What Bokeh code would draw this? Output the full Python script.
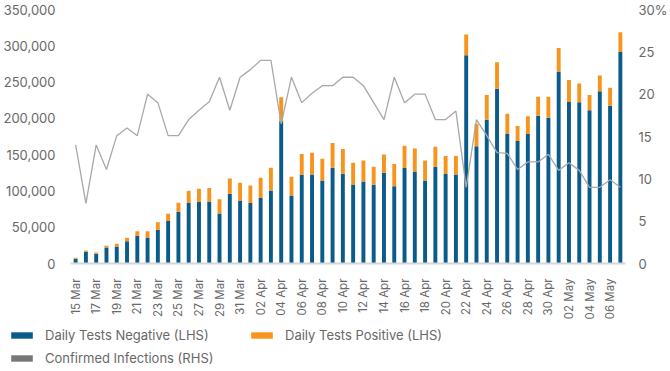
import numpy as np
from bokeh.plotting import figure
from bokeh.layouts import column
from bokeh.models import (ColumnDataSource, Range1d, LinearAxis, FixedTicker,
                          NumeralTickFormatter, Legend, LegendItem)
from bokeh.embed import file_html
from bokeh.resources import INLINE

dates = ["15 Mar", "16 Mar", "17 Mar", "18 Mar", "19 Mar", "20 Mar", "21 Mar", "22 Mar", "23 Mar",
         "24 Mar", "25 Mar", "26 Mar", "27 Mar", "28 Mar", "29 Mar", "30 Mar", "31 Mar",
         "01 Apr", "02 Apr", "03 Apr", "04 Apr", "05 Apr", "06 Apr", "07 Apr", "08 Apr", "09 Apr",
         "10 Apr", "11 Apr", "12 Apr", "13 Apr", "14 Apr", "15 Apr", "16 Apr", "17 Apr", "18 Apr",
         "19 Apr", "20 Apr", "21 Apr", "22 Apr", "23 Apr", "24 Apr", "25 Apr", "26 Apr", "27 Apr",
         "28 Apr", "29 Apr", "30 Apr", "01 May", "02 May", "03 May", "04 May", "05 May", "06 May",
         "07 May"]

negative = [6500, 16100, 13300, 22000, 23400, 30800, 38200, 35900, 46400, 58400,
            71300, 83200, 84600, 85500, 69000, 96100, 86900, 83200, 90100, 100700,
            195900, 93800, 122300, 122800, 114500, 132000, 123700, 109000, 113100, 108500,
            125100, 106600, 131500, 126900, 114500, 133400, 123200, 122800, 286900, 161400,
            198200, 240900, 179300, 168700, 178300, 203700, 201000, 264400, 222500, 222100,
            211000, 237200, 217500, 291400]

positive = [1400, 1800, 1900, 2400, 3800, 4600, 6400, 8700, 10600, 10100,
            12400, 17000, 18400, 18400, 19700, 21100, 24400, 24400, 28100, 31300,
            33100, 25800, 28500, 29900, 29900, 34000, 34000, 29900, 29000, 24900,
            25200, 30400, 30800, 31700, 27600, 27600, 24800, 25200, 28500, 31300,
            34000, 36300, 27200, 20700, 24500, 26200, 28900, 32600, 30300, 25800,
            21200, 21700, 24800, 27200]

confirmed_pct = [14.0, 7.1, 14.0, 11.1, 15.1, 16.0, 15.1, 20.0, 19.0, 15.1,
                 15.1, 17.0, 18.1, 19.1, 22.0, 18.1, 22.0, 22.9, 24.0, 24.0,
                 16.5, 22.0, 19.0, 20.1, 21.0, 21.0, 22.0, 22.0, 21.0, 19.0,
                 17.0, 22.0, 19.0, 20.0, 20.0, 17.0, 17.0, 18.0, 9.0, 17.0,
                 15.1, 13.1, 13.0, 11.1, 12.0, 12.0, 12.9, 11.0, 11.9, 11.0,
                 9.0, 9.0, 9.9, 9.0]

left_ticks = [0, 50000, 100000, 150000, 200000, 250000, 300000, 350000]
right_ticks = [0, 5, 10, 15, 20, 25, 30]
legend_labels = ["Daily Tests Negative (LHS)", "Daily Tests Positive (LHS)",
                 "Confirmed Infections (RHS)"]

BLUE = "#0a5a8a"
ORANGE = "#f7941d"
LINE = "#a8a8a8"
SWATCH_GREY = "#777777"
TXT = "#686868"
FONT = "Inter"

idx = list(range(len(dates)))
neg = np.array(negative)
pos = np.array(positive)
src = ColumnDataSource(dict(x=idx, neg=neg, top=neg + pos, pct=confirmed_pct))

p = figure(width=670, height=326, output_backend="svg", toolbar_location=None,
           x_range=Range1d(-0.5, len(dates) - 0.5), y_range=Range1d(0, 350000),
           min_border_left=67, min_border_right=37, min_border_top=9, min_border_bottom=63)
p.frame_align = False
p.outline_line_color = None
p.background_fill_color = None
p.border_fill_color = "white"
p.xgrid.visible = False
p.ygrid.visible = False

p.extra_y_ranges = {"pct": Range1d(0, 30)}

p.vbar(x="x", bottom=0, top="neg", width=0.38, source=src,
       fill_color=BLUE, line_color=None)
p.vbar(x="x", bottom="neg", top="top", width=0.38, source=src,
       fill_color=ORANGE, line_color=None)
p.line(x="x", y="pct", source=src, y_range_name="pct",
       line_color=LINE, line_width=1.3)

# x axis
xa = p.xaxis[0]
xa.ticker = FixedTicker(ticks=idx[::2])
xa.major_label_overrides = {i: dates[i] for i in idx[::2]}
xa.major_label_orientation = np.pi / 2
xa.axis_line_color = "#d6d6d6"
xa.axis_line_width = 2
xa.major_tick_line_color = None
xa.minor_tick_line_color = None
xa.major_label_standoff = 9
xa.major_label_text_font = FONT
xa.major_label_text_font_size = "11.5px"
xa.major_label_text_color = TXT

# left axis
ya = p.yaxis[0]
ya.ticker = FixedTicker(ticks=left_ticks)
ya.formatter = NumeralTickFormatter(format="0,0")
ya.axis_line_color = None
ya.major_tick_line_color = None
ya.minor_tick_line_color = None
ya.major_label_standoff = 9
ya.major_label_text_font = FONT
ya.major_label_text_font_size = "13px"
ya.major_label_text_color = TXT

# right axis
ra = LinearAxis(y_range_name="pct")
ra.ticker = FixedTicker(ticks=right_ticks)
ra.major_label_overrides = {30: "30%"}
ra.axis_line_color = None
ra.major_tick_line_color = None
ra.minor_tick_line_color = None
ra.major_label_standoff = 7
ra.major_label_text_font = FONT
ra.major_label_text_font_size = "13px"
ra.major_label_text_color = TXT
p.add_layout(ra, "right")

# legend strip
lsrc = ColumnDataSource(dict(x=[0, 0, 0], y=[0, 0, 0]))
lf = figure(width=670, height=45, output_backend="svg", toolbar_location=None,
            x_axis_location=None, y_axis_location=None,
            x_range=Range1d(0, 1), y_range=Range1d(0, 1), min_border=0)
lf.frame_align = False
lf.outline_line_color = None
lf.xgrid.visible = False
lf.ygrid.visible = False
swatch_colors = [BLUE, ORANGE, SWATCH_GREY]
rs = [lf.rect(x="x", y="y", width=0, height=0, source=lsrc,
              fill_color=c, line_color=None) for c in swatch_colors]

legend = Legend(items=[
    LegendItem(label=legend_labels[0], renderers=[rs[0]]),
    LegendItem(label=legend_labels[2], renderers=[rs[2]]),
    LegendItem(label=legend_labels[1], renderers=[rs[1]]),
], ncols=2, location=(8, 5))
legend.glyph_width = 27
legend.glyph_height = 8
legend.label_standoff = 10
legend.label_width = 196
legend.label_height = 13
legend.spacing = 7
legend.padding = 0
legend.margin = 0
legend.border_line_color = None
legend.background_fill_alpha = 0
legend.label_text_font = FONT
legend.label_text_font_size = "13px"
legend.label_text_color = TXT
lf.add_layout(legend, "center")

open("out.html", "w").write(file_html(column(p, lf, spacing=0), INLINE))
